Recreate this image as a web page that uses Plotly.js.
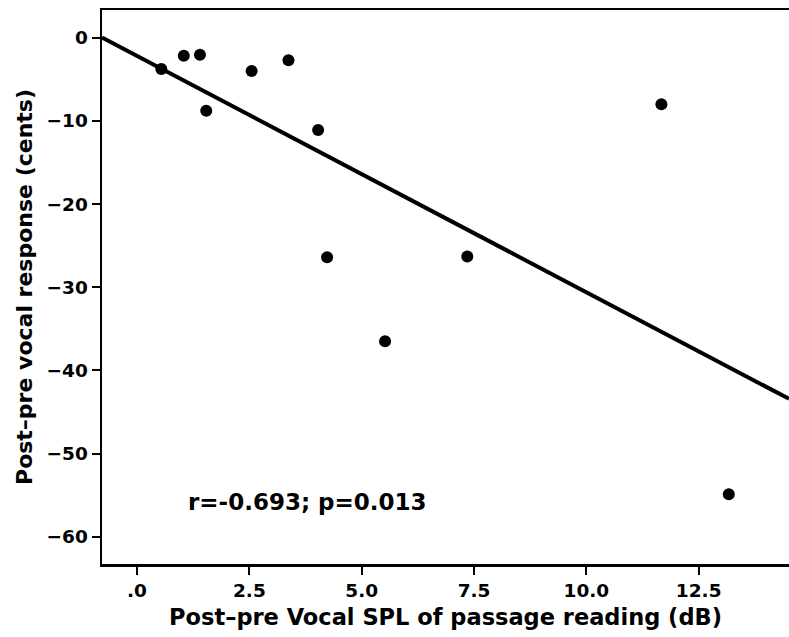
<!DOCTYPE html>
<html>
<head>
<meta charset="utf-8">
<script src="https://cdn.plot.ly/plotly-3.0.1.min.js"></script>
<style>html,body{margin:0;padding:0;background:#fff;}#chart{width:789px;height:637px;}</style>
</head>
<body>
<div id="chart"></div>
<script>
// Post-pre vocal SPL of passage reading (dB)
const splChange = [0.54, 1.04, 1.40, 1.54, 2.55, 3.37, 4.03, 4.23, 5.52, 7.35, 11.67, 13.17];
// Post-pre vocal response (cents)
const vocalResponse = [-3.76, -2.16, -2.04, -8.78, -4.0, -2.72, -11.1, -26.4, -36.5, -26.3, -8.01, -54.9];
const xTickVals = [0, 2.5, 5, 7.5, 10, 12.5];
const xTickText = [".0", "2.5", "5.0", "7.5", "10.0", "12.5"];
const yTickVals = [0, -10, -20, -30, -40, -50, -60];
const statsLabel = "r=-0.693; p=0.013";

// least-squares fit line
const n = splChange.length;
const mx = splChange.reduce((a, b) => a + b, 0) / n;
const my = vocalResponse.reduce((a, b) => a + b, 0) / n;
let sxy = 0, sxx = 0;
for (let i = 0; i < n; i++) { sxy += (splChange[i] - mx) * (vocalResponse[i] - my); sxx += (splChange[i] - mx) ** 2; }
const slope = sxy / sxx, intercept = my - slope * mx;
const xRange = [-0.78, 14.51];
const fitX = [xRange[0], xRange[1]];
const fitY = fitX.map(x => intercept + slope * x);

const font = "DejaVu Sans, Verdana, sans-serif";
const data = [
  { x: fitX, y: fitY, type: "scatter", mode: "lines", line: { color: "#000", width: 4 }, hoverinfo: "skip", cliponaxis: true },
  { x: splChange, y: vocalResponse, type: "scatter", mode: "markers", marker: { color: "#000", size: 12 } }
];
const layout = {
  width: 789, height: 637,
  margin: { l: 102, r: 0, t: 10, b: 73 },
  paper_bgcolor: "#fff", plot_bgcolor: "#fff",
  showlegend: false,
  font: { family: font, color: "#000" },
  xaxis: {
    range: xRange, showgrid: false, zeroline: false,
    showline: true, linecolor: "#000", linewidth: 2.5, mirror: true,
    ticks: "outside", ticklen: 8, tickwidth: 2, tickcolor: "#000",
    tickvals: xTickVals, ticktext: xTickText,
    tickfont: { family: font, size: 18.5, color: "#000", weight: "bold" },
    title: { text: "Post–pre Vocal SPL of passage reading (dB)", font: { family: font, size: 22.5, color: "#000", weight: "bold" }, standoff: 10 }
  },
  yaxis: {
    range: [-63.28, 3.33], showgrid: false, zeroline: false,
    showline: true, linecolor: "#000", linewidth: 2.5,
    ticks: "outside", ticklen: 8, tickwidth: 2, tickcolor: "#000",
    tickvals: yTickVals,
    tickfont: { family: font, size: 18.5, color: "#000", weight: "bold" },
    title: { text: "Post–pre vocal response (cents)", font: { family: font, size: 22, color: "#000", weight: "bold" }, standoff: 8 }
  },
  annotations: [{
    x: 1.10, y: -55.8, xref: "x", yref: "y", xanchor: "left", yanchor: "middle",
    text: statsLabel, showarrow: false,
    font: { family: font, size: 23, color: "#000", weight: "bold" }
  }]
};
Plotly.newPlot("chart", data, layout, { displayModeBar: false, staticPlot: true });
</script>
</body>
</html>
